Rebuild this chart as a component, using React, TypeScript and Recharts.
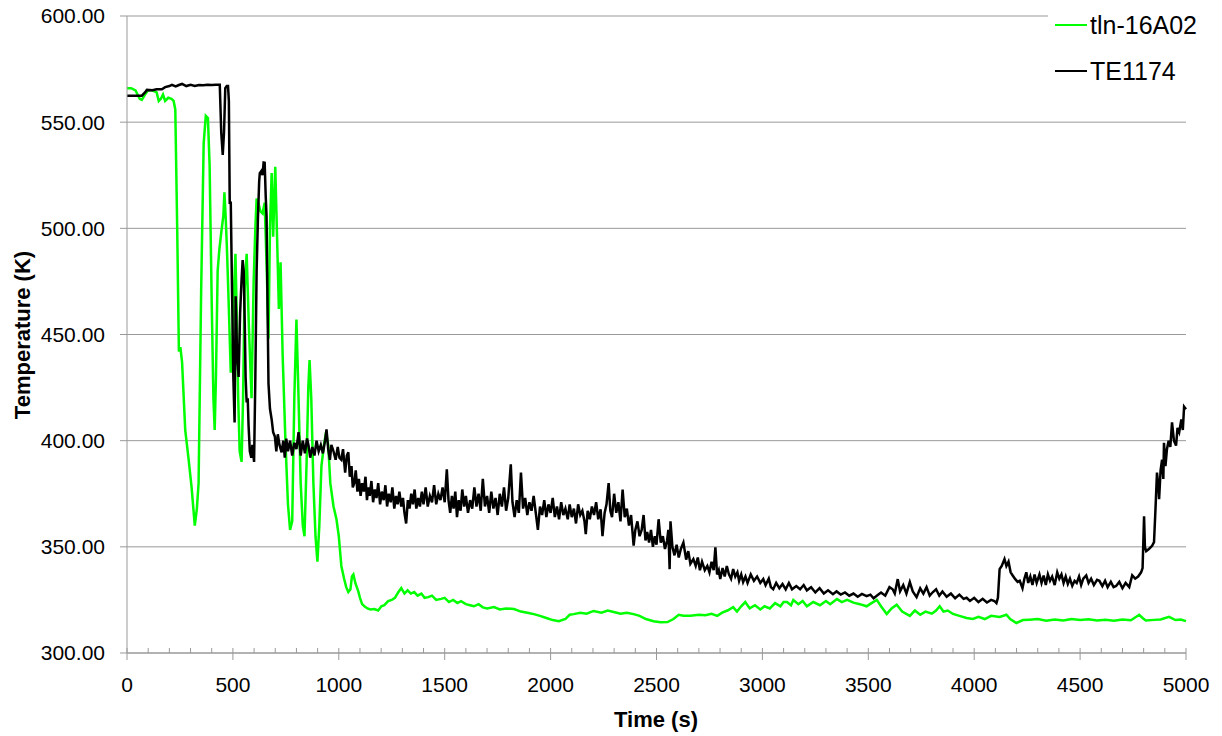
import { CartesianGrid, Legend, Line, LineChart, XAxis, YAxis } from 'recharts';

// tln-16A02 (green) readings, time in s / temperature in K
const greenTime = [
  0, 20, 40, 60, 70, 85, 100, 120, 140, 150, 160, 170, 180, 195, 210, 220, 228, 237, 245, 252,
  260, 275, 290, 305, 320, 330, 338, 350, 362, 372, 382, 390, 400, 408, 414, 420, 428, 436, 445, 455,
  460, 466, 472, 480, 490, 498, 505, 512, 518, 525, 532, 541, 548, 555, 565, 575, 588, 598, 606, 612,
  620, 630, 640, 650, 660, 668, 675, 683, 690, 700, 710, 717, 725, 735, 748, 760, 770, 780, 790, 800,
  810, 820, 830, 838, 848, 856, 862, 870, 880, 890, 899, 908, 918, 930, 940, 950, 960, 975, 989, 1000,
  1012, 1025, 1035, 1045, 1055, 1062, 1069, 1078, 1085, 1092, 1100, 1110, 1121, 1135, 1150, 1168, 1186, 1201, 1215, 1233,
  1250, 1265, 1280, 1295, 1310, 1325, 1340, 1356, 1372, 1390, 1405, 1422, 1440, 1460, 1483, 1500, 1520, 1540, 1560, 1577,
  1600, 1620, 1638, 1660, 1680, 1700, 1733, 1760, 1790, 1827, 1860, 1890, 1921, 1950, 1980, 2010, 2039, 2070, 2090, 2109,
  2140, 2170, 2203, 2240, 2270, 2298, 2330, 2360, 2392, 2420, 2450, 2486, 2520, 2552, 2580, 2605, 2627, 2660, 2700, 2730,
  2760, 2787, 2810, 2835, 2862, 2880, 2900, 2919, 2940, 2965, 2990, 3010, 3035, 3060, 3085, 3100, 3116, 3135, 3146, 3170,
  3190, 3210, 3240, 3272, 3300, 3320, 3352, 3375, 3400, 3430, 3460, 3492, 3515, 3540, 3560, 3587, 3610, 3634, 3660, 3696,
  3720, 3745, 3770, 3800, 3820, 3837, 3855, 3875, 3900, 3930, 3964, 3994, 4020, 4050, 4080, 4120, 4152, 4170, 4199, 4230,
  4260, 4300, 4340, 4380, 4420, 4460, 4500, 4540, 4580, 4620, 4660, 4700, 4740, 4779, 4795, 4810, 4850, 4880, 4920, 4950,
  4975, 5000,
];
const greenTemp = [
  566, 566, 565, 561, 560.5, 563, 565, 565, 564, 560, 561, 563, 560, 561.5, 561, 560, 556, 500, 442, 444,
  437, 405, 392, 378, 360, 368, 380, 470, 540, 553, 552, 530, 465, 420, 405, 430, 480, 490, 498, 506,
  517, 505, 490, 465, 432, 445, 470, 488, 460, 420, 395, 390, 420, 470, 488, 455, 420, 475, 500, 514,
  512, 508, 507, 512, 480, 448, 500, 526, 496, 529, 490, 462, 484, 440, 400, 370, 358, 362, 420, 457,
  420, 380, 360, 355, 390, 425, 438, 420, 380, 355, 343, 360, 388, 398, 404, 398, 380, 369, 363, 355,
  341, 335, 331, 328.7, 330, 336, 337, 333, 331, 329, 326, 323, 322, 321, 320.5, 320.7, 320, 322, 322.5, 324.4,
  325, 326, 328.5, 330.6, 328, 329.5, 328, 328.7, 327, 328, 326, 326.3, 327, 325, 325.5, 326, 324, 325, 323.5, 324.4,
  323, 322.5, 322, 323, 321.5, 321, 321.6, 320.5, 321, 320.7, 319.5, 319, 318.3, 317.5, 316.5, 315.5, 315, 316, 318, 318.3,
  319, 318.5, 319.8, 319, 320, 319.3, 318.5, 319, 318.3, 317.5, 316, 315, 314.5, 314.6, 316, 318, 317.5, 317.5, 318, 317.8,
  318.5, 317.5, 319, 320, 321.6, 319.5, 322, 324, 321, 322.5, 320.5, 322, 321, 323.5, 322, 324, 324, 322.5, 325, 323,
  324.5, 322, 324, 322.5, 324.5, 323, 325.4, 324, 325, 323.7, 323, 322, 323.5, 325, 322, 318.4, 321, 322.7, 319.5, 317.5,
  320, 318, 319.5, 318.5, 320, 322, 319.5, 320, 318.4, 317.5, 316.5, 316, 317, 316, 317.5, 317, 318, 316, 314.1, 315.5,
  315.7, 316, 315.2, 315.8, 315.3, 316, 315.5, 315.9, 315.3, 315.7, 315.2, 315.8, 315.4, 318, 316.5, 315.3, 315.6, 315.8, 317, 315.5,
  315.8, 315,
];

// TE1174 (black) readings
const blackTime = [
  0, 40, 70, 85, 94, 120, 140, 165, 180, 200, 212, 230, 245, 260, 280, 300, 320, 340, 360, 380,
  400, 420, 438, 445, 452, 458, 464, 471, 477, 481, 485, 490, 496, 502, 508, 513, 520, 527, 534, 541,
  546, 551, 556, 560, 565, 570, 574, 580, 587, 592, 600, 606, 612, 618, 624, 627, 634, 640, 645, 650,
  655, 659, 664, 668, 675, 683, 690, 698, 705, 712, 720, 730, 738, 745, 752, 760, 770, 780, 790, 800,
  810, 820, 830, 840, 850, 857, 865, 875, 885, 895, 905, 915, 925, 935, 942, 950, 958, 965, 975, 985,
  995, 1003, 1012, 1020, 1030, 1038, 1045, 1052, 1060, 1066, 1073, 1080, 1088, 1095, 1103, 1110, 1118, 1126, 1133, 1139,
  1146, 1154, 1162, 1170, 1178, 1186, 1195, 1203, 1212, 1220, 1228, 1236, 1245, 1253, 1262, 1270, 1278, 1286, 1295, 1303,
  1310, 1318, 1326, 1334, 1342, 1350, 1358, 1366, 1375, 1383, 1392, 1400, 1410, 1420, 1430, 1440, 1450, 1460, 1470, 1480,
  1490, 1500, 1510, 1518, 1526, 1534, 1542, 1550, 1558, 1566, 1575, 1583, 1592, 1600, 1610, 1620, 1630, 1640, 1650, 1660,
  1670, 1680, 1690, 1700, 1710, 1720, 1730, 1740, 1750, 1760, 1770, 1780, 1790, 1800, 1812, 1820, 1830, 1840, 1850, 1860,
  1870, 1880, 1890, 1900, 1910, 1920, 1930, 1940, 1950, 1960, 1970, 1980, 1990, 2000, 2010, 2020, 2030, 2040, 2050, 2060,
  2070, 2081, 2090, 2100, 2110, 2120, 2130, 2140, 2150, 2160, 2166, 2175, 2185, 2195, 2205, 2215, 2225, 2236, 2245, 2255,
  2264, 2274, 2282, 2290, 2300, 2310, 2320, 2330, 2340, 2350, 2360, 2370, 2380, 2392, 2400, 2410, 2420, 2430, 2439, 2448,
  2456, 2465, 2474, 2483, 2492, 2500, 2510, 2520, 2530, 2540, 2550, 2556, 2562, 2566, 2575, 2585, 2595, 2605, 2615, 2627,
  2640, 2650, 2660, 2674, 2685, 2695, 2705, 2715, 2728, 2740, 2750, 2760, 2770, 2778, 2786, 2794, 2801, 2812, 2822, 2832,
  2842, 2852, 2862, 2872, 2882, 2890, 2900, 2909, 2920, 2930, 2945, 2960, 2975, 2990, 3004, 3015, 3030, 3040, 3051, 3065,
  3080, 3095, 3110, 3125, 3140, 3160, 3178, 3195, 3210, 3230, 3250, 3270, 3290, 3310, 3333, 3350, 3370, 3390, 3410, 3430,
  3450, 3470, 3492, 3510, 3525, 3540, 3560, 3580, 3600, 3615, 3625, 3639, 3650, 3665, 3680, 3696, 3710, 3728, 3745, 3760,
  3775, 3790, 3804, 3820, 3835, 3850, 3870, 3890, 3910, 3930, 3950, 3964, 3980, 4000, 4020, 4040, 4060, 4080, 4095, 4105,
  4112, 4120, 4130, 4143, 4152, 4162, 4172, 4181, 4192, 4205, 4215, 4228, 4237, 4246, 4255, 4265, 4275, 4285, 4295, 4308,
  4318, 4328, 4338, 4348, 4358, 4368, 4380, 4392, 4402, 4412, 4422, 4432, 4442, 4452, 4463, 4474, 4484, 4495, 4505, 4515,
  4529, 4540, 4552, 4565, 4580, 4591, 4605, 4618, 4630, 4645, 4658, 4670, 4685, 4700, 4715, 4732, 4746, 4760, 4774, 4788,
  4795, 4802, 4806, 4812, 4825, 4840, 4849, 4856, 4863, 4870, 4873, 4880, 4887, 4893, 4896, 4903, 4910, 4918, 4926, 4934,
  4943, 4953, 4960, 4968, 4978, 4985, 4991, 5000,
];
const blackTemp = [
  562.5, 562.5, 562.5, 564, 565.2, 565, 565.5, 565.5, 566.5, 567, 567.6, 566.8, 567.5, 568, 567, 567.6, 567, 567.5, 567.4, 567.6,
  567.5, 567.6, 567.6, 545, 534.6, 545, 566, 567, 567, 560, 512, 512, 470, 430, 408.6, 468, 440, 430, 460, 476,
  485, 480, 455, 430, 418, 420, 407, 395, 392, 398, 390, 430, 480, 504, 522, 526, 527, 525, 531, 530.9,
  515, 505.5, 460, 427, 415, 410, 404, 402, 395, 403, 398, 394.5, 400, 392, 401, 395, 400, 393, 399, 396,
  404, 393, 400, 394, 401, 397.7, 392, 397, 393, 400, 395, 398, 394, 400, 405.3, 396, 391, 398, 395, 391,
  397, 392, 391, 396, 385, 393, 394.5, 383, 388, 378, 380, 386, 376, 382, 374, 380, 376, 383, 372, 378,
  374, 381, 371, 377, 373, 380, 370, 376, 372, 379, 369, 375, 371, 378, 368, 374, 370, 376, 369, 373,
  366, 361, 372, 368, 375, 370, 377, 368, 373, 369, 376, 370, 378, 369, 374, 371, 379, 370, 375, 372,
  378, 371, 386.5, 372, 366, 374, 368, 376, 364, 372, 367, 377, 369, 374, 366, 372, 368, 378, 369, 375,
  367, 382, 369, 374, 366, 376, 368, 373, 365, 375, 369, 378, 367, 373, 388.9, 371, 364, 372, 366, 385,
  368, 373, 365, 371, 367, 374, 366, 358, 369, 365, 372, 364, 370, 366, 373, 364, 369, 363, 371, 365,
  368, 363, 370, 364, 368, 361, 370, 365, 367, 362, 356, 367, 363, 369, 365, 371, 363, 367.7, 355, 366,
  370, 380, 367, 364, 375, 366, 371, 362, 377, 364, 368, 360, 365, 350.6, 358, 362, 355, 358, 365, 353,
  357, 352, 358, 350, 355, 351, 363, 352, 355, 349, 353, 358, 339.5, 362, 350, 346, 351, 345, 349, 352,
  344, 348, 342, 344.2, 341, 345, 339, 343, 339, 341, 338, 343, 339, 349.8, 337, 339, 334.8, 340, 336, 341,
  337, 335, 339.5, 336, 338, 334, 337, 333.4, 336, 333, 337, 334, 336, 333, 334.8, 332, 335, 331, 330, 333,
  330.5, 332.5, 330, 333, 330, 331.5, 330, 332, 329.5, 331, 328.5, 330.5, 328, 329.5, 327.7, 329, 327.5, 328.5, 327, 328,
  326.5, 327.8, 326.8, 327.5, 325.8, 327, 328.5, 327, 331, 330, 328, 334.8, 329, 332, 328, 333.4, 329, 326.3, 330.5, 328,
  331, 327, 328.6, 330, 327, 329, 326.5, 328, 325.8, 327.5, 325.5, 326, 324.5, 326, 324, 325.5, 323.8, 325, 324.5, 323.5,
  326, 339.5, 341, 344.2, 341, 343, 338, 336.6, 335, 333.5, 334, 330.5, 335, 338, 333, 336, 332, 337, 333, 337,
  333, 336.5, 332, 337, 334, 336, 332, 338, 335, 337, 333, 336, 332.5, 335, 331.6, 334, 333, 336, 332, 335,
  336.5, 333, 335, 332, 334.5, 334, 331.5, 334, 331, 333.5, 331, 331.6, 333.5, 330.5, 333, 331, 336.6, 335, 336, 338,
  340, 364.4, 350, 348, 349, 350.5, 352.2, 368, 385, 378, 372.4, 386, 391, 382, 399, 388, 396, 400, 397, 408.6,
  400, 397.7, 406, 404, 410, 405, 416, 414.8,
];

const seriesNames = ['tln-16A02', 'TE1174'];
const seriesColors = ['#00ff00', '#000000'];

const yTicks = [300, 350, 400, 450, 500, 550, 600];
const xMajorTicks = [0, 500, 1000, 1500, 2000, 2500, 3000, 3500, 4000, 4500, 5000];
const xTicks = Array.from({ length: 51 }, (_, i) => i * 100);

const greenData = greenTime.map((t, i) => ({ t, v: greenTemp[i] }));
const blackData = blackTime.map((t, i) => ({ t, v: blackTemp[i] }));

const axisGray = '#999999';

function TimeTick({ x, y, payload }: any) {
  const major = xMajorTicks.includes(payload.value);
  return (
    <g>
      <line x1={x} x2={x} y1={y - 5} y2={major ? y + 7 : y} stroke={axisGray} />
      {major && (
        <text x={x} y={y + 39} textAnchor="middle" fontSize={21} fill="#000">
          {payload.value}
        </text>
      )}
    </g>
  );
}

function LegendBox({ payload }: any) {
  // keep the series order, recharts sorts legend items by name otherwise
  const items = [...(payload || [])].sort(
    (a: any, b: any) => seriesNames.indexOf(a.value) - seriesNames.indexOf(b.value)
  );
  return (
    <div style={{ background: '#fff', width: 174, height: 96, paddingTop: 2, boxSizing: 'border-box' }}>
      {items.map((p: any) => (
        <div key={p.value} style={{ display: 'flex', alignItems: 'center', height: 46 }}>
          <div style={{ marginLeft: 7, width: 32, height: 2, background: p.color }} />
          <span style={{ marginLeft: 3, fontSize: 25, lineHeight: 1, color: '#000' }}>{p.value}</span>
        </div>
      ))}
    </div>
  );
}

export default function App() {
  return (
    <div style={{ position: 'absolute', left: 0, top: 0, width: 1222, height: 736, background: '#fff', fontFamily: '"Liberation Sans", Arial, sans-serif' }}>
      <LineChart width={1222} height={736} margin={{ top: 16, right: 36, bottom: 0, left: 0 }}>
        <CartesianGrid vertical={false} stroke={axisGray} />
        <XAxis
          type="number"
          dataKey="t"
          domain={[0, 5000]}
          ticks={xTicks}
          interval={0}
          height={83}
          tickSize={0}
          tickMargin={0}
          tickLine={false}
          axisLine={{ stroke: axisGray }}
          tick={<TimeTick />}
          label={{
            content: () => (
              <text x={656} y={727} textAnchor="middle" fontSize={22} fontWeight="bold" fill="#000">
                Time (s)
              </text>
            ),
          }}
        />
        <YAxis
          type="number"
          domain={[300, 600]}
          ticks={yTicks}
          width={127}
          tickSize={7}
          tickMargin={15}
          tickFormatter={(v: number) => v.toFixed(2)}
          tick={{ fill: '#000', fontSize: 21 }}
          tickLine={{ stroke: axisGray }}
          axisLine={{ stroke: axisGray }}
          label={{
            content: () => (
              <text x={30} y={335} transform="rotate(-90 30 335)" textAnchor="middle" fontSize={22} fontWeight="bold" fill="#000">
                Temperature (K)
              </text>
            ),
          }}
        />
        <Legend
          layout="vertical"
          align="center"
          verticalAlign="middle"
          content={<LegendBox />}
          wrapperStyle={{ left: 1048, top: 0, width: 174 }}
        />
        <Line
          data={greenData}
          dataKey="v"
          name={seriesNames[0]}
          type="linear"
          stroke={seriesColors[0]}
          strokeWidth={2.5}
          dot={false}
          isAnimationActive={false}
        />
        <Line
          data={blackData}
          dataKey="v"
          name={seriesNames[1]}
          type="linear"
          stroke={seriesColors[1]}
          strokeWidth={2.5}
          dot={false}
          isAnimationActive={false}
        />
      </LineChart>
    </div>
  );
}
